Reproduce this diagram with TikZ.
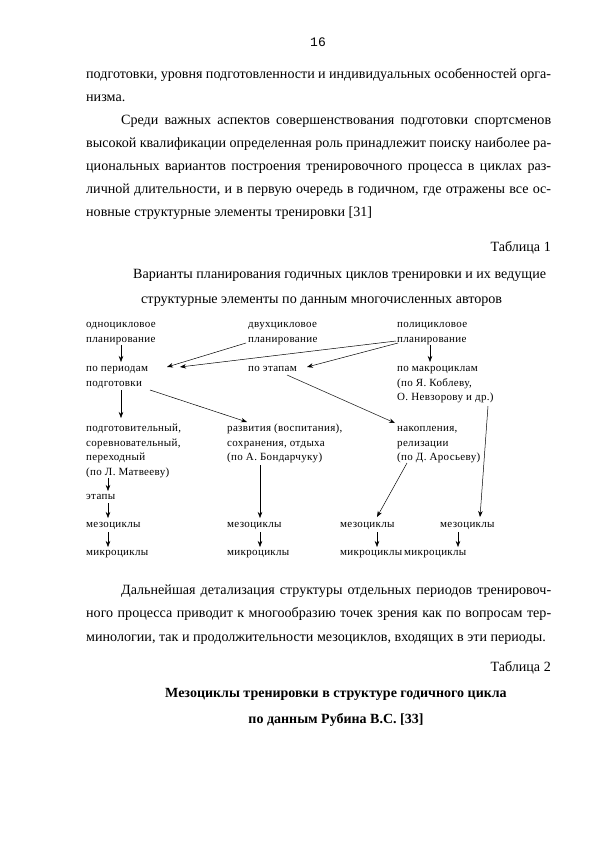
\documentclass[tikz,border=0pt]{standalone}
\usepackage{fontspec}
\setmainfont{Liberation Serif}
\newfontfamily\monofnt{Liberation Mono}
\newfontfamily\diagfnt[LetterSpace=3]{Liberation Serif}
\usetikzlibrary{arrows.meta,calc}
\tikzset{
  body/.style={anchor=base west, inner sep=0pt, font=\fontsize{14.1}{16}\selectfont},
  bodyr/.style={anchor=base east, inner sep=0pt, font=\fontsize{14.1}{16}\selectfont},
  lbl/.style={anchor=base west, inner sep=0pt, align=left, font=\diagfnt\fontsize{11}{14.7}\selectfont},
  arr/.style={-{Stealth[length=6pt,width=4.5pt]}, line width=0.5pt, black},
}
\newcommand{\jline}[1]{\makebox[465pt][s]{#1}}
\begin{document}
\begin{tikzpicture}[x=1pt,y=-1pt]
\useasboundingbox (0,0) rectangle (595,842);
\fill[white] (0,0) rectangle (595,842);
% page number
\node[anchor=base, inner sep=0pt, font=\monofnt\fontsize{13}{15}\selectfont] (pg) at (318,47) {16};
% paragraph 1
\node[body] (t1) at (86,79) {\jline{подготовки, уровня подготовленности и индивидуальных особенностей орга-}};
\node[body] (t2) at (86,101.8) {низма.};
\node[body] (t3) at (121,124.6) {\makebox[430pt][s]{Среди важных аспектов совершенствования подготовки спортсменов}};
\node[body] (t4) at (86,147.5) {\jline{высокой квалификации определенная роль принадлежит поиску наиболее ра-}};
\node[body] (t5) at (86,170.3) {\jline{циональных вариантов построения тренировочного процесса в циклах раз-}};
\node[body] (t6) at (86,193.1) {\jline{личной длительности, и в первую очередь в годичном, где отражены все ос-}};
\node[body] (t7) at (86,216) {новные структурные элементы тренировки [31]};
\node[bodyr] (tab1) at (551,251) {Таблица 1};
\node[body] (h1) at (133,278) {Варианты планирования годичных циклов тренировки и их ведущие};
\node[body] (h2) at (141,303) {структурные элементы по данным многочисленных авторов};
% diagram (base = baseline of the last line)
\node[lbl] (odno) at (86,342.2) {одноцикловое\\планирование};
\node[lbl] (dvuh) at (248,342.2) {двухцикловое\\планирование};
\node[lbl] (poli) at (397,342.2) {полицикловое\\планирование};
\node[lbl] (perio) at (86,386.2) {по периодам\\подготовки};
\node[lbl] (etap) at (248,371.5) {по этапам};
\node[lbl] (makro) at (397,400.9) {по макроциклам\\(по Я. Коблеву,\\О. Невзорову и др.)};
\node[lbl] (podg) at (86,475.6) {подготовительный,\\соревновательный,\\переходный\\(по Л. Матвееву)};
\node[lbl] (razv) at (227,460.9) {развития (воспитания),\\сохранения, отдыха\\(по А. Бондарчуку)};
\node[lbl] (nakop) at (397,460.9) {накопления,\\релизации\\(по Д. Аросьеву)};
\node[lbl] (etapy) at (86,499.5) {этапы};
\node[lbl] (mezo1) at (86,527.5) {мезоциклы};
\node[lbl] (mezo2) at (227,527.5) {мезоциклы};
\node[lbl] (mezo3) at (340,527.5) {мезоциклы};
\node[lbl] (mezo4) at (440,527.5) {мезоциклы};
\node[lbl] (mikro1) at (86,555.5) {микроциклы};
\node[lbl] (mikro2) at (227,555.5) {микроциклы};
\node[lbl] (mikro3) at (340,555.5) {микроциклы};
\node[lbl] (mikro4) at (404,555.5) {микроциклы};
% connectors
\draw[arr] ($(odno.base west)+(35,2.8)$) -- ($(perio.base west)+(35,-24.2)$);
\draw[arr] ($(dvuh.base west)+(-2,0.8)$) -- ($(perio.base west)+(81,-19.2)$);
\draw[arr] ($(poli.base west)+(-1,-1.2)$) -- ($(perio.base west)+(94,-19.2)$);
\draw[arr] ($(poli.base west)+(1,0.8)$) -- ($(etap.base west)+(59,-4.5)$);
\draw[arr] ($(poli.base west)+(33,2.8)$) -- ($(makro.base west)+(33,-38.9)$);
\draw[arr] ($(perio.base west)+(35,3.8)$) -- ($(podg.base west)+(35,-57.6)$);
\draw[arr] ($(perio.base west)+(64,3.8)$) -- ($(razv.base west)+(20,-38.9)$);
\draw[arr] ($(etap.base west)+(39,3.5)$) -- ($(nakop.base west)+(-2,-37.9)$);
\draw[arr] ($(makro.base west)+(91,5.1)$) -- ($(mezo4.base west)+(40,-10.5)$);
\draw[arr] ($(podg.base west)+(22,2.4)$) -- ($(etapy.base west)+(22,-8.5)$);
\draw[arr] ($(etapy.base west)+(22,3.5)$) -- ($(mezo1.base west)+(22,-9.5)$);
\draw[arr] ($(mezo1.base west)+(22,4.5)$) -- ($(mikro1.base west)+(22,-8.5)$);
\draw[arr] ($(razv.base west)+(33,4.1)$) -- ($(mezo2.base west)+(33,-9.5)$);
\draw[arr] ($(mezo2.base west)+(33,4.5)$) -- ($(mikro2.base west)+(33,-8.5)$);
\draw[arr] ($(nakop.base west)+(10,2.1)$) -- ($(mezo3.base west)+(37,-10.5)$);
\draw[arr] ($(mezo3.base west)+(37,4.5)$) -- ($(mikro3.base west)+(37,-8.5)$);
\draw[arr] ($(mezo4.base west)+(18,4.5)$) -- ($(mikro4.base west)+(54,-8.5)$);
% paragraph 2
\node[body] (p1) at (121,594) {\makebox[430pt][s]{Дальнейшая детализация структуры отдельных периодов тренировоч-}};
\node[body] (p2) at (86,617.8) {\jline{ного процесса приводит к многообразию точек зрения как по вопросам тер-}};
\node[body] (p3) at (86,641) {минологии, так и продолжительности мезоциклов, входящих в эти периоды.};
\node[bodyr] (tab2) at (551,671) {Таблица 2};
\node[body, font=\bfseries\fontsize{14}{16}\selectfont, anchor=base] (b1) at (336,697) {Мезоциклы тренировки в структуре годичного цикла};
\node[body, font=\bfseries\fontsize{14}{16}\selectfont, anchor=base] (b2) at (336,723) {по данным Рубина В.С. [33]};
\end{tikzpicture}
\end{document}
